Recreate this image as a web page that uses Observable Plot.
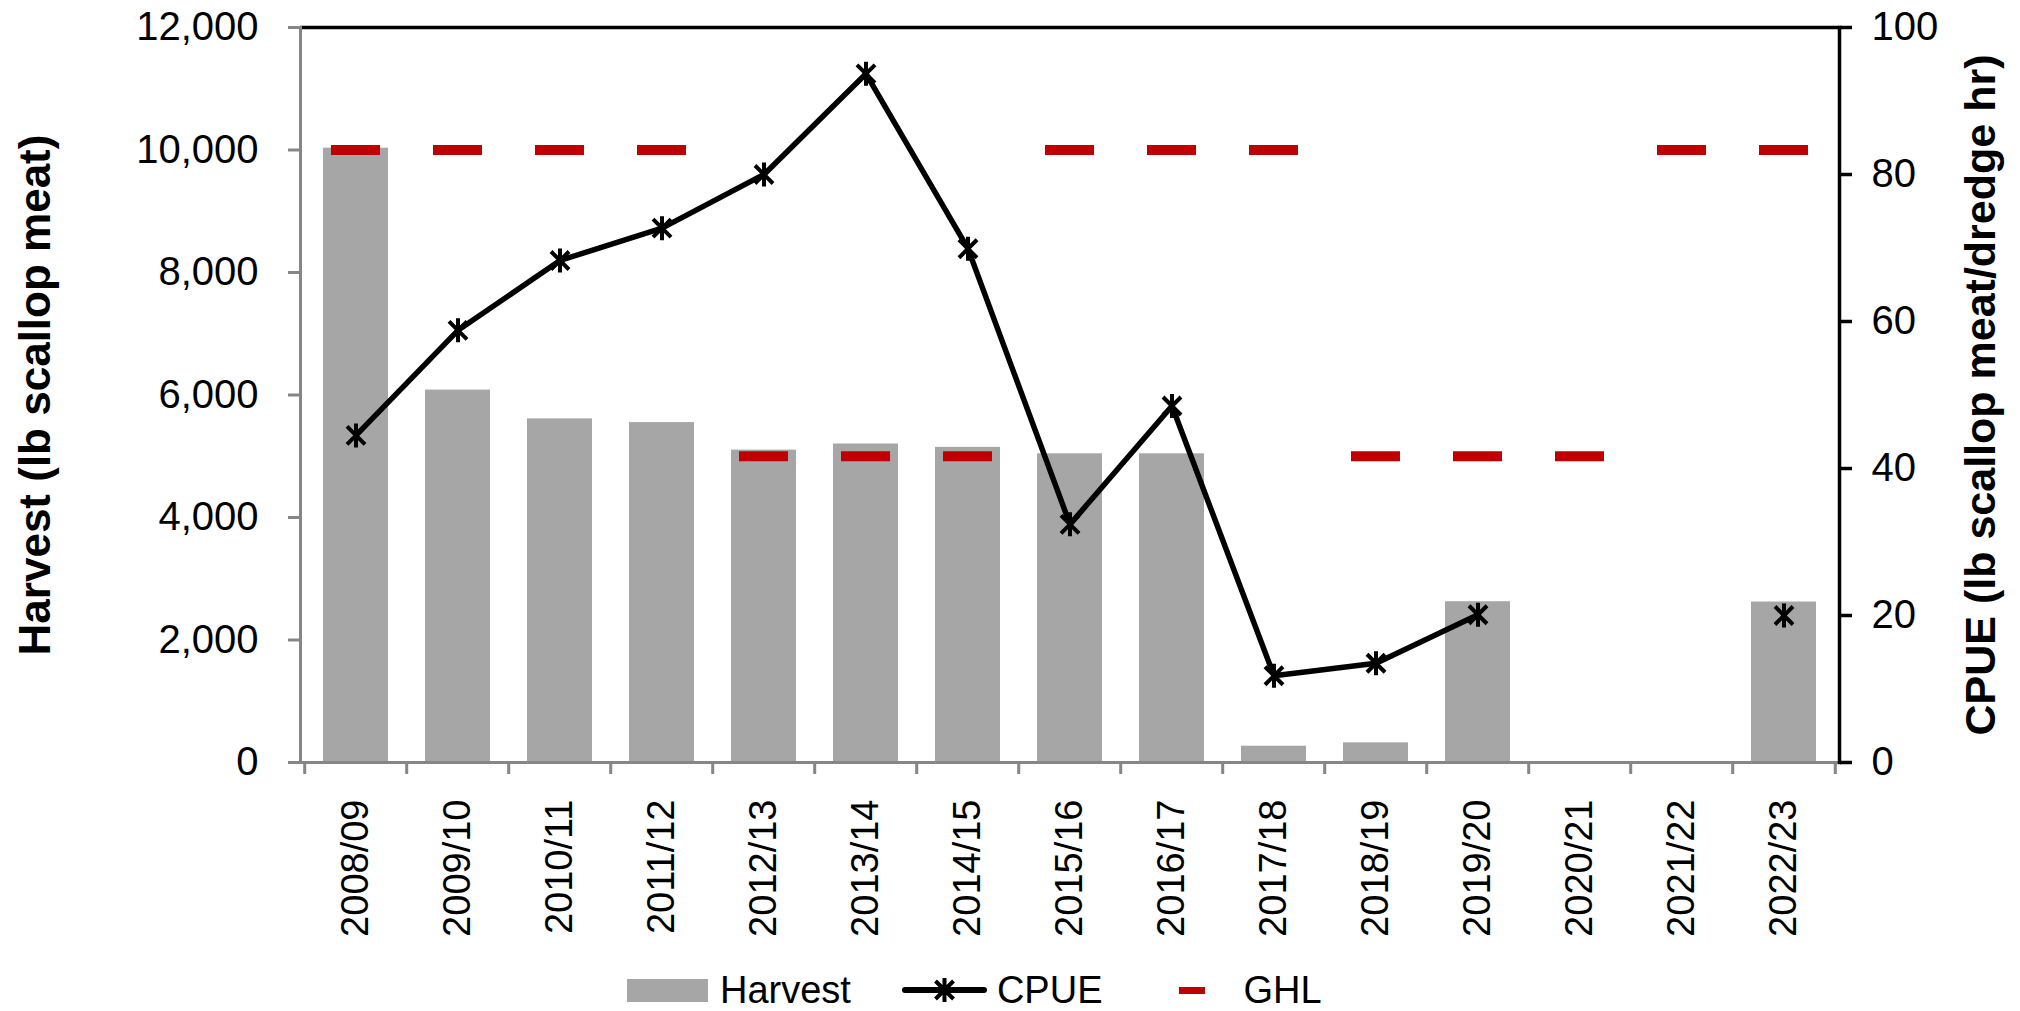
<!DOCTYPE html>
<html>
<head>
<meta charset="utf-8">
<script src="https://cdn.jsdelivr.net/npm/d3@7"></script>
<script src="https://cdn.jsdelivr.net/npm/@observablehq/plot@0.6"></script>
<style>
  body { margin: 0; background: #fff; font-family: "Liberation Sans", Arial, sans-serif; }
  #wrap { position: relative; width: 2020px; height: 1011px; }
  #legend { position: absolute; left: 627px; top: 966px; height: 48px; display: flex; align-items: center; font-size: 38px; color: #000; }
  #legend span { white-space: nowrap; }
</style>
</head>
<body>
<div id="wrap">
  <div id="chart"></div>
  <div id="legend"></div>
</div>
<script>
const seasons = ['2008/09', '2009/10', '2010/11', '2011/12', '2012/13', '2013/14', '2014/15', '2015/16',
  '2016/17', '2017/18', '2018/19', '2019/20', '2020/21', '2021/22', '2022/23']
const harvest = [10030, 6080, 5610, 5550, 5100, 5200, 5145, 5040, 5040, 266, 321, 2625, 0, 0, 2620]
const cpue = [44.5, 58.8, 68.3, 72.7, 80.0, 93.7, 69.9, 32.4, 48.5, 11.8, 13.5, 20.1, null, null, 20.0]
const ghl = [10000, 10000, 10000, 10000, 5000, 5000, 5000, 10000, 10000, 10000, 5000, 5000, 5000, 10000, 10000]
const harvestTicks = [0, 2000, 4000, 6000, 8000, 10000, 12000]
const cpueTicks = [0, 20, 40, 60, 80, 100]

// CPUE sits on the right axis: 100 on it lines up with 12,000 on the left
const k = 12000 / 100

const data = seasons.map((s, i) => ({season: s, harvest: harvest[i], cpue: cpue[i], ghl: ghl[i]}))

const W = 2020, H = 945, mL = 300, mR = 181, mT = 27, mB = 183
const step = (W - mL - mR) / seasons.length
const grey = '#868686'

// Excel-like star marker: a vertical bar crossed by an X
const star = {
  draw(ctx, size) {
    const r = Math.sqrt(size / Math.PI)
    const a = r * 0.75
    ctx.moveTo(0, -r); ctx.lineTo(0, r)
    ctx.moveTo(-a, -a); ctx.lineTo(a, a)
    ctx.moveTo(-a, a); ctx.lineTo(a, -a)
  }
}

const chart = Plot.plot({
  width: W,
  height: H,
  marginLeft: mL,
  marginRight: mR,
  marginTop: mT,
  marginBottom: mB,
  style: {fontFamily: '"Liberation Sans", Arial, sans-serif', fontSize: '38px', color: '#000', background: '#fff'},
  x: {domain: seasons, paddingInner: 0.365, paddingOuter: 0.1825, label: null},
  y: {domain: [0, 12000], label: null},
  marks: [
    Plot.barY(data, {x: 'season', y: 'harvest', fill: '#A6A6A6'}),
    Plot.tickY(data, {x: 'season', y: 'ghl', stroke: '#C00000', strokeWidth: 10, insetLeft: 8, insetRight: 8}),
    Plot.line(data, {x: 'season', y: d => d.cpue == null ? null : d.cpue * k, stroke: '#000', strokeWidth: 5.5}),
    Plot.dot(data.filter(d => d.cpue != null), {x: 'season', y: d => d.cpue * k, symbol: star, r: 12, stroke: '#000', strokeWidth: 4, fill: 'none'}),
    // frame lines
    Plot.ruleY([12000], {stroke: '#000', strokeWidth: 3.5}),
    Plot.ruleY([0], {stroke: grey, strokeWidth: 3}),
    Plot.frame({anchor: 'left', stroke: grey, strokeWidth: 3}),
    Plot.frame({anchor: 'right', stroke: '#000', strokeWidth: 3.5}),
    // left axis
    Plot.axisY({ticks: harvestTicks, tickFormat: d3.format(','), tickSize: 12, tickPadding: 30, stroke: grey, strokeWidth: 3, fill: '#000', fontSize: 40, label: null}),
    // right axis
    Plot.axisY({anchor: 'right', ticks: cpueTicks.map(v => v * k), tickFormat: v => Math.round(v / k), tickSize: 12, tickPadding: 20, stroke: '#000', strokeWidth: 3.5, fill: '#000', fontSize: 40, label: null}),
    // x axis: ticks on category boundaries, labels at centres
    Plot.axisX({text: null, tickSize: 12, dx: -step / 2, stroke: grey, strokeWidth: 3, label: null}),
    Plot.axisX({ticks: [seasons[seasons.length - 1]], text: null, tickSize: 12, dx: step / 2, stroke: grey, strokeWidth: 3, label: null}),
    Plot.axisX({tickSize: 0, tickPadding: 37, tickRotate: -90, fontSize: 38, fill: '#000', label: null}),
    // axis titles
    Plot.text(['Harvest (lb scallop meat)'], {frameAnchor: 'left', textAnchor: 'middle', dx: -265, rotate: -90, fontSize: 44, fontWeight: 'bold', fill: '#000'}),
    Plot.text(['CPUE (lb scallop meat/dredge hr)'], {frameAnchor: 'right', textAnchor: 'middle', dx: 142, rotate: -90, fontSize: 43, fontWeight: 'bold', fill: '#000'})
  ]
})

d3.select('#chart').append(() => chart)

// legend
const lg = d3.select('#legend')
lg.append('span').style('display', 'inline-block').style('width', '81px').style('height', '23px').style('background', '#A6A6A6')
lg.append('span').style('margin-left', '12px').text('Harvest')
const ls = lg.append('svg').attr('width', 85).attr('height', 30).style('margin-left', '51px')
ls.append('line').attr('x1', 3).attr('x2', 82).attr('y1', 15).attr('y2', 15).attr('stroke', '#000').attr('stroke-width', 6).attr('stroke-linecap', 'round')
ls.append('path').attr('transform', 'translate(42.5,15)').attr('d', d3.symbol(star, Math.PI * 12 * 12)()).attr('stroke', '#000').attr('stroke-width', 4).attr('fill', 'none')
lg.append('span').style('margin-left', '10px').text('CPUE')
lg.append('span').style('display', 'inline-block').style('width', '26px').style('height', '7px').style('background', '#C00000').style('margin-left', '76px')
lg.append('span').style('margin-left', '39px').text('GHL')
</script>
</body>
</html>
